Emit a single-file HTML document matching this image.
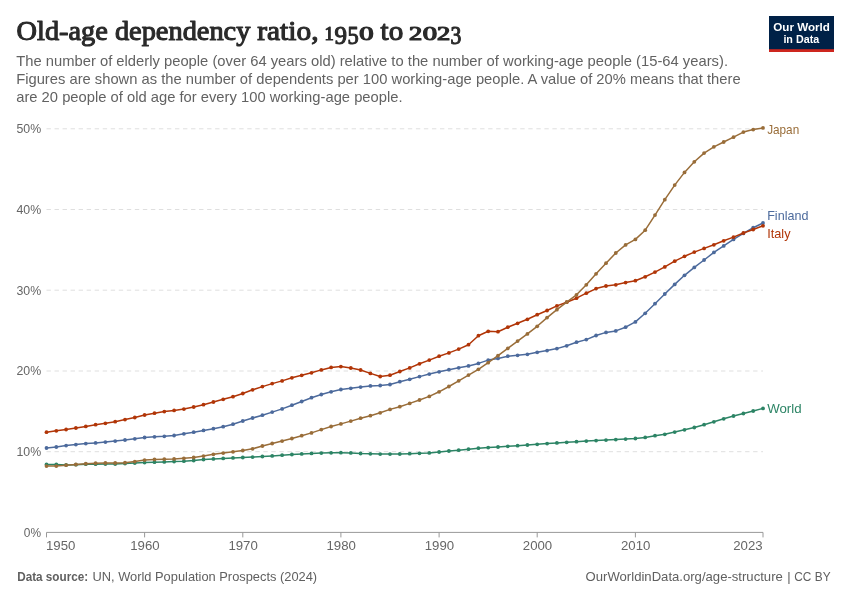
<!DOCTYPE html>
<html lang="en"><head><meta charset="utf-8"><title>Old-age dependency ratio, 1950 to 2023</title>
<style>html,body{margin:0;padding:0;background:#fff}svg{display:block}text{font-family:"Liberation Sans",sans-serif}.t{font-family:"Liberation Serif",serif}</style></head><body>
<svg width="850" height="600" viewBox="0 0 850 600">
<rect width="850" height="600" fill="#fff"/>
<text class="t" x="16.6" y="40" font-size="27.5" fill="#2a2a2a" stroke="#2a2a2a" stroke-width="1.1" stroke-linejoin="round"><tspan x="16.6" textLength="91.2" lengthAdjust="spacingAndGlyphs">Old-age</tspan> <tspan x="114.9" textLength="135.5" lengthAdjust="spacingAndGlyphs">dependency</tspan> <tspan x="257.3" textLength="61.2" lengthAdjust="spacingAndGlyphs">ratio,</tspan> <tspan x="324.6" textLength="9.3" lengthAdjust="spacingAndGlyphs" y="39.6" font-size="17.8">1</tspan><tspan x="334.5" textLength="12.5" lengthAdjust="spacingAndGlyphs" y="43.7" font-size="24.6">9</tspan><tspan x="347.5" textLength="11.2" lengthAdjust="spacingAndGlyphs" y="43.7" font-size="24.6">5</tspan><tspan x="359.2" textLength="14.3" lengthAdjust="spacingAndGlyphs" y="39.6" font-size="17.8">0</tspan> <tspan x="380.6" textLength="22.6" lengthAdjust="spacingAndGlyphs" y="40" font-size="27.5">to</tspan> <tspan x="408.9" textLength="13.2" lengthAdjust="spacingAndGlyphs" y="39.6" font-size="17.8">2</tspan><tspan x="422.7" textLength="14.3" lengthAdjust="spacingAndGlyphs" y="39.6" font-size="17.8">0</tspan><tspan x="437.1" textLength="13.2" lengthAdjust="spacingAndGlyphs" y="39.6" font-size="17.8">2</tspan><tspan x="450.4" textLength="10.8" lengthAdjust="spacingAndGlyphs" y="43.7" font-size="24.6">3</tspan></text>
<text x="16.2" y="66" font-size="15" fill="#626262" textLength="711.8" lengthAdjust="spacingAndGlyphs">The number of elderly people (over 64 years old) relative to the number of working-age people (15-64 years).</text>
<text x="16.2" y="84" font-size="15" fill="#626262" textLength="724.4" lengthAdjust="spacingAndGlyphs">Figures are shown as the number of dependents per 100 working-age people. A value of 20% means that there</text>
<text x="16.2" y="102" font-size="15" fill="#626262" textLength="386.4" lengthAdjust="spacingAndGlyphs">are 20 people of old age for every 100 working-age people.</text>
<rect x="769" y="16" width="65" height="36" fill="#002147"/><rect x="769" y="49.2" width="65" height="2.8" fill="#CE261E"/>
<text x="801.6" y="30.5" font-size="11.8" font-weight="bold" fill="#fff" text-anchor="middle" textLength="56.6" lengthAdjust="spacingAndGlyphs">Our World</text>
<text x="801.3" y="42.8" font-size="11.8" font-weight="bold" fill="#fff" text-anchor="middle" textLength="35.8" lengthAdjust="spacingAndGlyphs">in Data</text>
<line x1="46.5" x2="763" y1="128.8" y2="128.8" stroke="#dfdfdf" stroke-width="1" stroke-dasharray="4.4,3.63"/>
<text x="41.2" y="133.2" font-size="12.6" fill="#666" text-anchor="end" textLength="24.7" lengthAdjust="spacingAndGlyphs">50%</text>
<line x1="46.5" x2="763" y1="209.5" y2="209.5" stroke="#dfdfdf" stroke-width="1" stroke-dasharray="4.4,3.63"/>
<text x="41.2" y="213.9" font-size="12.6" fill="#666" text-anchor="end" textLength="24.7" lengthAdjust="spacingAndGlyphs">40%</text>
<line x1="46.5" x2="763" y1="290.2" y2="290.2" stroke="#dfdfdf" stroke-width="1" stroke-dasharray="4.4,3.63"/>
<text x="41.2" y="294.6" font-size="12.6" fill="#666" text-anchor="end" textLength="24.7" lengthAdjust="spacingAndGlyphs">30%</text>
<line x1="46.5" x2="763" y1="371.0" y2="371.0" stroke="#dfdfdf" stroke-width="1" stroke-dasharray="4.4,3.63"/>
<text x="41.2" y="375.4" font-size="12.6" fill="#666" text-anchor="end" textLength="24.7" lengthAdjust="spacingAndGlyphs">20%</text>
<line x1="46.5" x2="763" y1="451.7" y2="451.7" stroke="#dfdfdf" stroke-width="1" stroke-dasharray="4.4,3.63"/>
<text x="41.2" y="456.1" font-size="12.6" fill="#666" text-anchor="end" textLength="24.7" lengthAdjust="spacingAndGlyphs">10%</text>
<text x="41" y="536.5" font-size="12.6" fill="#666" text-anchor="end" textLength="17.2" lengthAdjust="spacingAndGlyphs">0%</text>
<line x1="46.5" x2="763" y1="532.4" y2="532.4" stroke="#999" stroke-width="1"/>
<line x1="46.5" x2="46.5" y1="532.4" y2="537.4" stroke="#999" stroke-width="1"/>
<text x="46.0" y="550.3" font-size="12.6" fill="#666" text-anchor="start" textLength="29.4" lengthAdjust="spacingAndGlyphs">1950</text>
<line x1="144.6" x2="144.6" y1="532.4" y2="537.4" stroke="#999" stroke-width="1"/>
<text x="144.9" y="550.3" font-size="12.6" fill="#666" text-anchor="middle" textLength="29.4" lengthAdjust="spacingAndGlyphs">1960</text>
<line x1="242.8" x2="242.8" y1="532.4" y2="537.4" stroke="#999" stroke-width="1"/>
<text x="243.1" y="550.3" font-size="12.6" fill="#666" text-anchor="middle" textLength="29.4" lengthAdjust="spacingAndGlyphs">1970</text>
<line x1="340.9" x2="340.9" y1="532.4" y2="537.4" stroke="#999" stroke-width="1"/>
<text x="341.2" y="550.3" font-size="12.6" fill="#666" text-anchor="middle" textLength="29.4" lengthAdjust="spacingAndGlyphs">1980</text>
<line x1="439.1" x2="439.1" y1="532.4" y2="537.4" stroke="#999" stroke-width="1"/>
<text x="439.4" y="550.3" font-size="12.6" fill="#666" text-anchor="middle" textLength="29.4" lengthAdjust="spacingAndGlyphs">1990</text>
<line x1="537.2" x2="537.2" y1="532.4" y2="537.4" stroke="#999" stroke-width="1"/>
<text x="537.5" y="550.3" font-size="12.6" fill="#666" text-anchor="middle" textLength="29.4" lengthAdjust="spacingAndGlyphs">2000</text>
<line x1="635.4" x2="635.4" y1="532.4" y2="537.4" stroke="#999" stroke-width="1"/>
<text x="635.7" y="550.3" font-size="12.6" fill="#666" text-anchor="middle" textLength="29.4" lengthAdjust="spacingAndGlyphs">2010</text>
<line x1="763.0" x2="763.0" y1="532.4" y2="537.4" stroke="#999" stroke-width="1"/>
<text x="762.6" y="550.3" font-size="12.6" fill="#666" text-anchor="end" textLength="29.4" lengthAdjust="spacingAndGlyphs">2023</text>
<g fill="#2C8465"><polyline points="46.5,464.4 56.3,464.4 66.1,464.9 75.9,464.7 85.8,464.2 95.6,464.2 105.4,464.1 115.2,464.0 125.0,463.5 134.8,463.1 144.6,462.6 154.5,462.2 164.3,461.9 174.1,461.5 183.9,461.2 193.7,460.5 203.5,459.5 213.4,458.9 223.2,458.4 233.0,457.9 242.8,457.5 252.6,457.1 262.4,456.5 272.2,455.9 282.1,455.2 291.9,454.5 301.7,453.9 311.5,453.4 321.3,453.1 331.1,452.8 340.9,452.7 350.8,452.9 360.6,453.5 370.4,453.8 380.2,454.1 390.0,454.1 399.8,454.0 409.7,453.7 419.5,453.3 429.3,452.9 439.1,452.0 448.9,451.0 458.7,450.2 468.5,449.2 478.4,448.2 488.2,447.6 498.0,447.0 507.8,446.3 517.6,445.7 527.4,445.0 537.2,444.3 547.1,443.6 556.9,442.9 566.7,442.3 576.5,441.7 586.3,441.1 596.1,440.6 606.0,440.1 615.8,439.6 625.6,439.1 635.4,438.5 645.2,437.4 655.0,435.7 664.8,434.3 674.7,432.1 684.5,429.8 694.3,427.5 704.1,424.7 713.9,421.8 723.7,418.8 733.5,416.0 743.4,413.5 753.2,411.0 763.0,408.4" fill="none" stroke="#2C8465" stroke-width="1.5" stroke-linejoin="round" stroke-linecap="round"/>
<circle cx="46.5" cy="464.4" r="1.9"/><circle cx="56.3" cy="464.4" r="1.9"/><circle cx="66.1" cy="464.9" r="1.9"/><circle cx="75.9" cy="464.7" r="1.9"/><circle cx="85.8" cy="464.2" r="1.9"/><circle cx="95.6" cy="464.2" r="1.9"/><circle cx="105.4" cy="464.1" r="1.9"/><circle cx="115.2" cy="464.0" r="1.9"/><circle cx="125.0" cy="463.5" r="1.9"/><circle cx="134.8" cy="463.1" r="1.9"/><circle cx="144.6" cy="462.6" r="1.9"/><circle cx="154.5" cy="462.2" r="1.9"/><circle cx="164.3" cy="461.9" r="1.9"/><circle cx="174.1" cy="461.5" r="1.9"/><circle cx="183.9" cy="461.2" r="1.9"/><circle cx="193.7" cy="460.5" r="1.9"/><circle cx="203.5" cy="459.5" r="1.9"/><circle cx="213.4" cy="458.9" r="1.9"/><circle cx="223.2" cy="458.4" r="1.9"/><circle cx="233.0" cy="457.9" r="1.9"/><circle cx="242.8" cy="457.5" r="1.9"/><circle cx="252.6" cy="457.1" r="1.9"/><circle cx="262.4" cy="456.5" r="1.9"/><circle cx="272.2" cy="455.9" r="1.9"/><circle cx="282.1" cy="455.2" r="1.9"/><circle cx="291.9" cy="454.5" r="1.9"/><circle cx="301.7" cy="453.9" r="1.9"/><circle cx="311.5" cy="453.4" r="1.9"/><circle cx="321.3" cy="453.1" r="1.9"/><circle cx="331.1" cy="452.8" r="1.9"/><circle cx="340.9" cy="452.7" r="1.9"/><circle cx="350.8" cy="452.9" r="1.9"/><circle cx="360.6" cy="453.5" r="1.9"/><circle cx="370.4" cy="453.8" r="1.9"/><circle cx="380.2" cy="454.1" r="1.9"/><circle cx="390.0" cy="454.1" r="1.9"/><circle cx="399.8" cy="454.0" r="1.9"/><circle cx="409.7" cy="453.7" r="1.9"/><circle cx="419.5" cy="453.3" r="1.9"/><circle cx="429.3" cy="452.9" r="1.9"/><circle cx="439.1" cy="452.0" r="1.9"/><circle cx="448.9" cy="451.0" r="1.9"/><circle cx="458.7" cy="450.2" r="1.9"/><circle cx="468.5" cy="449.2" r="1.9"/><circle cx="478.4" cy="448.2" r="1.9"/><circle cx="488.2" cy="447.6" r="1.9"/><circle cx="498.0" cy="447.0" r="1.9"/><circle cx="507.8" cy="446.3" r="1.9"/><circle cx="517.6" cy="445.7" r="1.9"/><circle cx="527.4" cy="445.0" r="1.9"/><circle cx="537.2" cy="444.3" r="1.9"/><circle cx="547.1" cy="443.6" r="1.9"/><circle cx="556.9" cy="442.9" r="1.9"/><circle cx="566.7" cy="442.3" r="1.9"/><circle cx="576.5" cy="441.7" r="1.9"/><circle cx="586.3" cy="441.1" r="1.9"/><circle cx="596.1" cy="440.6" r="1.9"/><circle cx="606.0" cy="440.1" r="1.9"/><circle cx="615.8" cy="439.6" r="1.9"/><circle cx="625.6" cy="439.1" r="1.9"/><circle cx="635.4" cy="438.5" r="1.9"/><circle cx="645.2" cy="437.4" r="1.9"/><circle cx="655.0" cy="435.7" r="1.9"/><circle cx="664.8" cy="434.3" r="1.9"/><circle cx="674.7" cy="432.1" r="1.9"/><circle cx="684.5" cy="429.8" r="1.9"/><circle cx="694.3" cy="427.5" r="1.9"/><circle cx="704.1" cy="424.7" r="1.9"/><circle cx="713.9" cy="421.8" r="1.9"/><circle cx="723.7" cy="418.8" r="1.9"/><circle cx="733.5" cy="416.0" r="1.9"/><circle cx="743.4" cy="413.5" r="1.9"/><circle cx="753.2" cy="411.0" r="1.9"/><circle cx="763.0" cy="408.4" r="1.9"/>
<text x="767.2" y="412.9" font-size="13" textLength="34.4" lengthAdjust="spacingAndGlyphs">World</text></g>
<g fill="#4C6A9C"><polyline points="46.5,448.0 56.3,447.0 66.1,445.6 75.9,444.6 85.8,443.6 95.6,442.9 105.4,442.1 115.2,441.1 125.0,440.0 134.8,438.8 144.6,437.5 154.5,436.8 164.3,436.3 174.1,435.5 183.9,433.8 193.7,432.2 203.5,430.4 213.4,428.7 223.2,426.7 233.0,424.2 242.8,421.0 252.6,418.0 262.4,415.2 272.2,412.1 282.1,408.9 291.9,405.2 301.7,401.5 311.5,397.7 321.3,394.5 331.1,391.8 340.9,389.5 350.8,388.3 360.6,387.1 370.4,385.9 380.2,385.5 390.0,384.5 399.8,381.7 409.7,379.3 419.5,376.6 429.3,374.1 439.1,371.8 448.9,369.7 458.7,367.8 468.5,365.9 478.4,363.4 488.2,360.1 498.0,358.4 507.8,356.2 517.6,355.3 527.4,354.3 537.2,352.3 547.1,350.6 556.9,348.6 566.7,345.8 576.5,342.2 586.3,339.6 596.1,335.5 606.0,332.4 615.8,330.9 625.6,327.2 635.4,321.9 645.2,313.3 655.0,303.7 664.8,294.0 674.7,284.4 684.5,275.3 694.3,267.4 704.1,260.0 713.9,252.4 723.7,245.9 733.5,239.4 743.4,233.4 753.2,227.7 763.0,223.0" fill="none" stroke="#4C6A9C" stroke-width="1.5" stroke-linejoin="round" stroke-linecap="round"/>
<circle cx="46.5" cy="448.0" r="1.9"/><circle cx="56.3" cy="447.0" r="1.9"/><circle cx="66.1" cy="445.6" r="1.9"/><circle cx="75.9" cy="444.6" r="1.9"/><circle cx="85.8" cy="443.6" r="1.9"/><circle cx="95.6" cy="442.9" r="1.9"/><circle cx="105.4" cy="442.1" r="1.9"/><circle cx="115.2" cy="441.1" r="1.9"/><circle cx="125.0" cy="440.0" r="1.9"/><circle cx="134.8" cy="438.8" r="1.9"/><circle cx="144.6" cy="437.5" r="1.9"/><circle cx="154.5" cy="436.8" r="1.9"/><circle cx="164.3" cy="436.3" r="1.9"/><circle cx="174.1" cy="435.5" r="1.9"/><circle cx="183.9" cy="433.8" r="1.9"/><circle cx="193.7" cy="432.2" r="1.9"/><circle cx="203.5" cy="430.4" r="1.9"/><circle cx="213.4" cy="428.7" r="1.9"/><circle cx="223.2" cy="426.7" r="1.9"/><circle cx="233.0" cy="424.2" r="1.9"/><circle cx="242.8" cy="421.0" r="1.9"/><circle cx="252.6" cy="418.0" r="1.9"/><circle cx="262.4" cy="415.2" r="1.9"/><circle cx="272.2" cy="412.1" r="1.9"/><circle cx="282.1" cy="408.9" r="1.9"/><circle cx="291.9" cy="405.2" r="1.9"/><circle cx="301.7" cy="401.5" r="1.9"/><circle cx="311.5" cy="397.7" r="1.9"/><circle cx="321.3" cy="394.5" r="1.9"/><circle cx="331.1" cy="391.8" r="1.9"/><circle cx="340.9" cy="389.5" r="1.9"/><circle cx="350.8" cy="388.3" r="1.9"/><circle cx="360.6" cy="387.1" r="1.9"/><circle cx="370.4" cy="385.9" r="1.9"/><circle cx="380.2" cy="385.5" r="1.9"/><circle cx="390.0" cy="384.5" r="1.9"/><circle cx="399.8" cy="381.7" r="1.9"/><circle cx="409.7" cy="379.3" r="1.9"/><circle cx="419.5" cy="376.6" r="1.9"/><circle cx="429.3" cy="374.1" r="1.9"/><circle cx="439.1" cy="371.8" r="1.9"/><circle cx="448.9" cy="369.7" r="1.9"/><circle cx="458.7" cy="367.8" r="1.9"/><circle cx="468.5" cy="365.9" r="1.9"/><circle cx="478.4" cy="363.4" r="1.9"/><circle cx="488.2" cy="360.1" r="1.9"/><circle cx="498.0" cy="358.4" r="1.9"/><circle cx="507.8" cy="356.2" r="1.9"/><circle cx="517.6" cy="355.3" r="1.9"/><circle cx="527.4" cy="354.3" r="1.9"/><circle cx="537.2" cy="352.3" r="1.9"/><circle cx="547.1" cy="350.6" r="1.9"/><circle cx="556.9" cy="348.6" r="1.9"/><circle cx="566.7" cy="345.8" r="1.9"/><circle cx="576.5" cy="342.2" r="1.9"/><circle cx="586.3" cy="339.6" r="1.9"/><circle cx="596.1" cy="335.5" r="1.9"/><circle cx="606.0" cy="332.4" r="1.9"/><circle cx="615.8" cy="330.9" r="1.9"/><circle cx="625.6" cy="327.2" r="1.9"/><circle cx="635.4" cy="321.9" r="1.9"/><circle cx="645.2" cy="313.3" r="1.9"/><circle cx="655.0" cy="303.7" r="1.9"/><circle cx="664.8" cy="294.0" r="1.9"/><circle cx="674.7" cy="284.4" r="1.9"/><circle cx="684.5" cy="275.3" r="1.9"/><circle cx="694.3" cy="267.4" r="1.9"/><circle cx="704.1" cy="260.0" r="1.9"/><circle cx="713.9" cy="252.4" r="1.9"/><circle cx="723.7" cy="245.9" r="1.9"/><circle cx="733.5" cy="239.4" r="1.9"/><circle cx="743.4" cy="233.4" r="1.9"/><circle cx="753.2" cy="227.7" r="1.9"/><circle cx="763.0" cy="223.0" r="1.9"/>
<text x="767.2" y="219.9" font-size="13" textLength="41.2" lengthAdjust="spacingAndGlyphs">Finland</text></g>
<g fill="#B13507"><polyline points="46.5,432.2 56.3,430.8 66.1,429.5 75.9,428.0 85.8,426.4 95.6,424.7 105.4,423.3 115.2,421.7 125.0,419.6 134.8,417.5 144.6,415.0 154.5,413.2 164.3,411.6 174.1,410.4 183.9,409.1 193.7,407.0 203.5,404.7 213.4,402.0 223.2,399.3 233.0,396.7 242.8,393.5 252.6,389.8 262.4,386.6 272.2,383.6 282.1,380.9 291.9,377.8 301.7,375.3 311.5,372.8 321.3,369.9 331.1,367.4 340.9,366.6 350.8,368.0 360.6,370.0 370.4,373.4 380.2,376.5 390.0,375.2 399.8,371.5 409.7,367.9 419.5,363.8 429.3,360.1 439.1,356.2 448.9,352.9 458.7,349.1 468.5,344.7 478.4,335.7 488.2,331.3 498.0,331.7 507.8,327.2 517.6,323.3 527.4,319.3 537.2,314.7 547.1,310.5 556.9,305.9 566.7,302.2 576.5,298.2 586.3,293.2 596.1,288.6 606.0,286.0 615.8,284.8 625.6,282.6 635.4,280.7 645.2,276.8 655.0,272.1 664.8,266.9 674.7,261.2 684.5,256.3 694.3,252.1 704.1,248.4 713.9,244.8 723.7,240.8 733.5,237.1 743.4,233.0 753.2,229.5 763.0,225.8" fill="none" stroke="#B13507" stroke-width="1.5" stroke-linejoin="round" stroke-linecap="round"/>
<circle cx="46.5" cy="432.2" r="1.9"/><circle cx="56.3" cy="430.8" r="1.9"/><circle cx="66.1" cy="429.5" r="1.9"/><circle cx="75.9" cy="428.0" r="1.9"/><circle cx="85.8" cy="426.4" r="1.9"/><circle cx="95.6" cy="424.7" r="1.9"/><circle cx="105.4" cy="423.3" r="1.9"/><circle cx="115.2" cy="421.7" r="1.9"/><circle cx="125.0" cy="419.6" r="1.9"/><circle cx="134.8" cy="417.5" r="1.9"/><circle cx="144.6" cy="415.0" r="1.9"/><circle cx="154.5" cy="413.2" r="1.9"/><circle cx="164.3" cy="411.6" r="1.9"/><circle cx="174.1" cy="410.4" r="1.9"/><circle cx="183.9" cy="409.1" r="1.9"/><circle cx="193.7" cy="407.0" r="1.9"/><circle cx="203.5" cy="404.7" r="1.9"/><circle cx="213.4" cy="402.0" r="1.9"/><circle cx="223.2" cy="399.3" r="1.9"/><circle cx="233.0" cy="396.7" r="1.9"/><circle cx="242.8" cy="393.5" r="1.9"/><circle cx="252.6" cy="389.8" r="1.9"/><circle cx="262.4" cy="386.6" r="1.9"/><circle cx="272.2" cy="383.6" r="1.9"/><circle cx="282.1" cy="380.9" r="1.9"/><circle cx="291.9" cy="377.8" r="1.9"/><circle cx="301.7" cy="375.3" r="1.9"/><circle cx="311.5" cy="372.8" r="1.9"/><circle cx="321.3" cy="369.9" r="1.9"/><circle cx="331.1" cy="367.4" r="1.9"/><circle cx="340.9" cy="366.6" r="1.9"/><circle cx="350.8" cy="368.0" r="1.9"/><circle cx="360.6" cy="370.0" r="1.9"/><circle cx="370.4" cy="373.4" r="1.9"/><circle cx="380.2" cy="376.5" r="1.9"/><circle cx="390.0" cy="375.2" r="1.9"/><circle cx="399.8" cy="371.5" r="1.9"/><circle cx="409.7" cy="367.9" r="1.9"/><circle cx="419.5" cy="363.8" r="1.9"/><circle cx="429.3" cy="360.1" r="1.9"/><circle cx="439.1" cy="356.2" r="1.9"/><circle cx="448.9" cy="352.9" r="1.9"/><circle cx="458.7" cy="349.1" r="1.9"/><circle cx="468.5" cy="344.7" r="1.9"/><circle cx="478.4" cy="335.7" r="1.9"/><circle cx="488.2" cy="331.3" r="1.9"/><circle cx="498.0" cy="331.7" r="1.9"/><circle cx="507.8" cy="327.2" r="1.9"/><circle cx="517.6" cy="323.3" r="1.9"/><circle cx="527.4" cy="319.3" r="1.9"/><circle cx="537.2" cy="314.7" r="1.9"/><circle cx="547.1" cy="310.5" r="1.9"/><circle cx="556.9" cy="305.9" r="1.9"/><circle cx="566.7" cy="302.2" r="1.9"/><circle cx="576.5" cy="298.2" r="1.9"/><circle cx="586.3" cy="293.2" r="1.9"/><circle cx="596.1" cy="288.6" r="1.9"/><circle cx="606.0" cy="286.0" r="1.9"/><circle cx="615.8" cy="284.8" r="1.9"/><circle cx="625.6" cy="282.6" r="1.9"/><circle cx="635.4" cy="280.7" r="1.9"/><circle cx="645.2" cy="276.8" r="1.9"/><circle cx="655.0" cy="272.1" r="1.9"/><circle cx="664.8" cy="266.9" r="1.9"/><circle cx="674.7" cy="261.2" r="1.9"/><circle cx="684.5" cy="256.3" r="1.9"/><circle cx="694.3" cy="252.1" r="1.9"/><circle cx="704.1" cy="248.4" r="1.9"/><circle cx="713.9" cy="244.8" r="1.9"/><circle cx="723.7" cy="240.8" r="1.9"/><circle cx="733.5" cy="237.1" r="1.9"/><circle cx="743.4" cy="233.0" r="1.9"/><circle cx="753.2" cy="229.5" r="1.9"/><circle cx="763.0" cy="225.8" r="1.9"/>
<text x="767.2" y="238.3" font-size="13" textLength="23.3" lengthAdjust="spacingAndGlyphs">Italy</text></g>
<g fill="#996D39"><polyline points="46.5,466.1 56.3,466.1 66.1,465.2 75.9,464.5 85.8,463.7 95.6,463.2 105.4,463.0 115.2,463.0 125.0,462.7 134.8,461.6 144.6,460.1 154.5,459.4 164.3,459.2 174.1,458.9 183.9,458.3 193.7,457.5 203.5,456.1 213.4,454.3 223.2,453.1 233.0,451.8 242.8,450.5 252.6,448.8 262.4,446.0 272.2,443.5 282.1,441.1 291.9,438.5 301.7,435.7 311.5,432.9 321.3,429.6 331.1,426.5 340.9,423.9 350.8,421.1 360.6,418.2 370.4,415.7 380.2,412.8 390.0,409.4 399.8,406.7 409.7,403.4 419.5,400.0 429.3,396.4 439.1,391.8 448.9,386.5 458.7,380.8 468.5,375.1 478.4,369.3 488.2,362.7 498.0,355.7 507.8,348.4 517.6,341.1 527.4,333.9 537.2,326.3 547.1,317.6 556.9,309.7 566.7,302.1 576.5,294.8 586.3,284.8 596.1,273.8 606.0,263.2 615.8,253.0 625.6,244.9 635.4,239.4 645.2,230.2 655.0,215.1 664.8,199.7 674.7,185.1 684.5,172.4 694.3,161.8 704.1,153.1 713.9,146.8 723.7,142.0 733.5,137.2 743.4,132.1 753.2,129.6 763.0,127.9" fill="none" stroke="#996D39" stroke-width="1.5" stroke-linejoin="round" stroke-linecap="round"/>
<circle cx="46.5" cy="466.1" r="1.9"/><circle cx="56.3" cy="466.1" r="1.9"/><circle cx="66.1" cy="465.2" r="1.9"/><circle cx="75.9" cy="464.5" r="1.9"/><circle cx="85.8" cy="463.7" r="1.9"/><circle cx="95.6" cy="463.2" r="1.9"/><circle cx="105.4" cy="463.0" r="1.9"/><circle cx="115.2" cy="463.0" r="1.9"/><circle cx="125.0" cy="462.7" r="1.9"/><circle cx="134.8" cy="461.6" r="1.9"/><circle cx="144.6" cy="460.1" r="1.9"/><circle cx="154.5" cy="459.4" r="1.9"/><circle cx="164.3" cy="459.2" r="1.9"/><circle cx="174.1" cy="458.9" r="1.9"/><circle cx="183.9" cy="458.3" r="1.9"/><circle cx="193.7" cy="457.5" r="1.9"/><circle cx="203.5" cy="456.1" r="1.9"/><circle cx="213.4" cy="454.3" r="1.9"/><circle cx="223.2" cy="453.1" r="1.9"/><circle cx="233.0" cy="451.8" r="1.9"/><circle cx="242.8" cy="450.5" r="1.9"/><circle cx="252.6" cy="448.8" r="1.9"/><circle cx="262.4" cy="446.0" r="1.9"/><circle cx="272.2" cy="443.5" r="1.9"/><circle cx="282.1" cy="441.1" r="1.9"/><circle cx="291.9" cy="438.5" r="1.9"/><circle cx="301.7" cy="435.7" r="1.9"/><circle cx="311.5" cy="432.9" r="1.9"/><circle cx="321.3" cy="429.6" r="1.9"/><circle cx="331.1" cy="426.5" r="1.9"/><circle cx="340.9" cy="423.9" r="1.9"/><circle cx="350.8" cy="421.1" r="1.9"/><circle cx="360.6" cy="418.2" r="1.9"/><circle cx="370.4" cy="415.7" r="1.9"/><circle cx="380.2" cy="412.8" r="1.9"/><circle cx="390.0" cy="409.4" r="1.9"/><circle cx="399.8" cy="406.7" r="1.9"/><circle cx="409.7" cy="403.4" r="1.9"/><circle cx="419.5" cy="400.0" r="1.9"/><circle cx="429.3" cy="396.4" r="1.9"/><circle cx="439.1" cy="391.8" r="1.9"/><circle cx="448.9" cy="386.5" r="1.9"/><circle cx="458.7" cy="380.8" r="1.9"/><circle cx="468.5" cy="375.1" r="1.9"/><circle cx="478.4" cy="369.3" r="1.9"/><circle cx="488.2" cy="362.7" r="1.9"/><circle cx="498.0" cy="355.7" r="1.9"/><circle cx="507.8" cy="348.4" r="1.9"/><circle cx="517.6" cy="341.1" r="1.9"/><circle cx="527.4" cy="333.9" r="1.9"/><circle cx="537.2" cy="326.3" r="1.9"/><circle cx="547.1" cy="317.6" r="1.9"/><circle cx="556.9" cy="309.7" r="1.9"/><circle cx="566.7" cy="302.1" r="1.9"/><circle cx="576.5" cy="294.8" r="1.9"/><circle cx="586.3" cy="284.8" r="1.9"/><circle cx="596.1" cy="273.8" r="1.9"/><circle cx="606.0" cy="263.2" r="1.9"/><circle cx="615.8" cy="253.0" r="1.9"/><circle cx="625.6" cy="244.9" r="1.9"/><circle cx="635.4" cy="239.4" r="1.9"/><circle cx="645.2" cy="230.2" r="1.9"/><circle cx="655.0" cy="215.1" r="1.9"/><circle cx="664.8" cy="199.7" r="1.9"/><circle cx="674.7" cy="185.1" r="1.9"/><circle cx="684.5" cy="172.4" r="1.9"/><circle cx="694.3" cy="161.8" r="1.9"/><circle cx="704.1" cy="153.1" r="1.9"/><circle cx="713.9" cy="146.8" r="1.9"/><circle cx="723.7" cy="142.0" r="1.9"/><circle cx="733.5" cy="137.2" r="1.9"/><circle cx="743.4" cy="132.1" r="1.9"/><circle cx="753.2" cy="129.6" r="1.9"/><circle cx="763.0" cy="127.9" r="1.9"/>
<text x="767.2" y="133.5" font-size="13" textLength="32.0" lengthAdjust="spacingAndGlyphs">Japan</text></g>
<text x="17.2" y="580.8" font-size="13" fill="#606060"><tspan font-weight="bold" textLength="71" lengthAdjust="spacingAndGlyphs">Data source:</tspan> <tspan x="92.5" textLength="224.6" lengthAdjust="spacingAndGlyphs">UN, World Population Prospects (2024)</tspan></text>
<text y="580.8" font-size="13" fill="#606060"><tspan x="585.6" textLength="197.2" lengthAdjust="spacingAndGlyphs">OurWorldinData.org/age-structure</tspan> <tspan x="787.3">|</tspan> <tspan x="794.3" textLength="36.3" lengthAdjust="spacingAndGlyphs">CC BY</tspan></text>
</svg></body></html>
